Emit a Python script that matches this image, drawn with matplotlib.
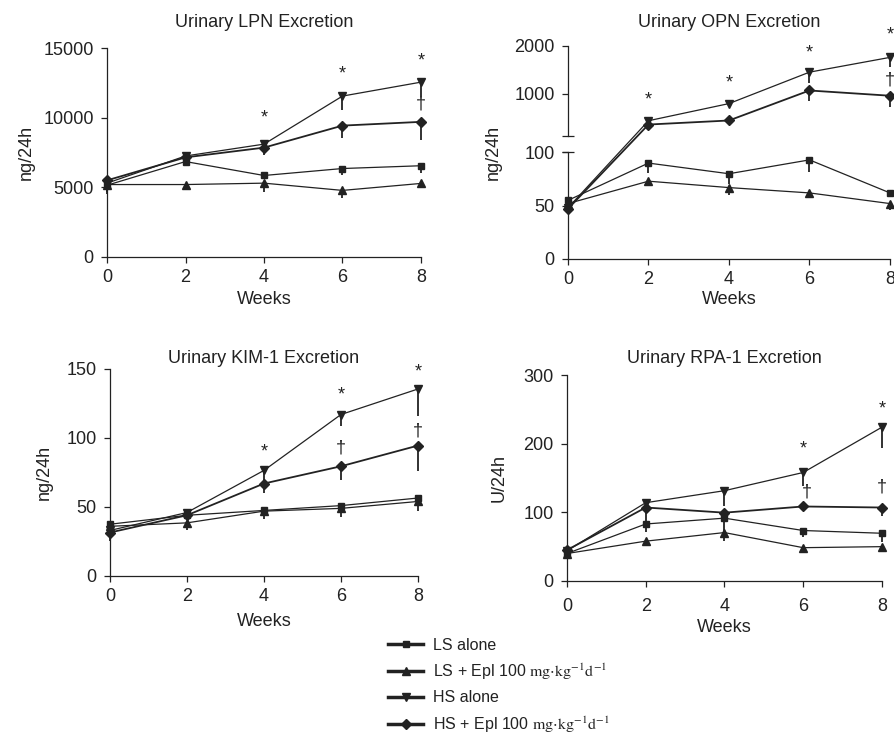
import numpy as np
import matplotlib
matplotlib.use('Agg')
import matplotlib.pyplot as plt
from matplotlib.spines import Spine

plt.rcParams['font.family'] = ['Liberation Sans', 'DejaVu Sans']
plt.rcParams['mathtext.fontset'] = 'stix'

INK = '#222222'

weeks = [0, 2, 4, 6, 8]
groups = ['LS alone', r'LS + Epl 100 $\mathrm{mg{\cdot}kg^{-1}d^{-1}}$',
          'HS alone', r'HS + Epl 100 $\mathrm{mg{\cdot}kg^{-1}d^{-1}}$']

# urinary LPN (ng/24h), order: LS, LS+Epl, HS, HS+Epl
lpn_ls = [5150, 6850, 5850, 6350, 6550]
lpn_ls_epl = [5200, 5200, 5300, 4780, 5280]
lpn_hs = [5300, 7250, 8100, 11550, 12550]
lpn_hs_epl = [5500, 7150, 7850, 9430, 9700]
lpn_ls_err = [300, 200, 150, 500, 500]
lpn_ls_epl_err = [500, 200, 650, 550, 300]
lpn_hs_err = [800, 200, 300, 1000, 1000]
lpn_hs_epl_err = [300, 200, 500, 900, 1300]
lpn_marks = [(4, 9950, '*'), (6, 13100, '*'), (8, 14050, '*'), (8, 11000, '†')]

# urinary OPN (ng/24h)
opn_ls = [55, 90, 80, 93, 62]
opn_ls_epl = [52, 73, 67, 62, 52]
opn_hs = [48, 430, 790, 1450, 1760]
opn_hs_epl = [47, 350, 435, 1065, 955]
opn_ls_err = [3, 9, 10, 11, 3]
opn_ls_epl_err = [3, 2, 7, 2, 6]
opn_hs_err = [3, 30, 40, 230, 200]
opn_hs_epl_err = [3, 30, 30, 230, 240]
opn_marks = [(2, 870, '*'), (4, 1220, '*'), (6, 1860, '*'), (8, 2230, '*'), (8, 1290, '†')]

# urinary KIM-1 (ng/24h)
kim_ls = [37.5, 44, 47.5, 51, 56.5]
kim_ls_epl = [36, 38.5, 47, 49, 54]
kim_hs = [33, 46, 76.5, 117, 135.5]
kim_hs_epl = [31.5, 44, 67, 79.5, 94.5]
kim_ls_err = [2, 2, 2, 2, 2]
kim_ls_epl_err = [2, 5, 6, 6, 7]
kim_hs_err = [2, 2, 8, 8.5, 19.5]
kim_hs_epl_err = [6, 2, 6.5, 10, 18.5]
kim_marks = [(4, 90, '*'), (6, 131, '*'), (8, 147.5, '*'), (6, 92.5, '†'), (8, 105, '†')]

# urinary RPA-1 (U/24h)
rpa_ls = [40, 83, 91.5, 73.5, 69.5]
rpa_ls_epl = [40, 58, 70.5, 48.5, 50]
rpa_hs = [44, 114, 131.5, 158, 224]
rpa_hs_epl = [45, 107, 99.5, 108.5, 107]
rpa_ls_err = [2, 11, 20, 9, 13]
rpa_ls_epl_err = [2, 5, 12, 5, 4]
rpa_hs_err = [2, 3, 23, 20, 31]
rpa_hs_epl_err = [3, 23, 3, 3, 13]
rpa_marks = [(6, 192, '*'), (8, 251, '*'), (6.1, 129, '†'), (8, 137, '†')]

# marker, size, line width per group
styles = [('s', 4.2, 0.9), ('^', 5.5, 0.9), ('v', 5.5, 0.9), ('D', 5.0, 1.3)]

# broken OPN axis: linear 0-100, gap, then compressed 100-2000
GAP = 15
K = 0.0447


def opn_fwd(y):
    y = np.asarray(y, dtype=float)
    return np.where(y <= 100, y, 100 + GAP + (y - 100) * K)


def opn_inv(f):
    f = np.asarray(f, dtype=float)
    return np.where(f <= 100, f, 100 + np.maximum(f - 100 - GAP, 0) / K)


def panel(ax, ys, errs, marks, title, ylabel, ylim, yticks, tpad, lab_x, xlab_y, xpad):
    handles = []
    for y, e, (mk, ms, lw) in zip(ys, errs, styles):
        c = ax.errorbar(weeks, y, yerr=[e, np.zeros(len(e))], fmt='-', marker=mk, ms=ms,
                        lw=lw, color=INK, ecolor=INK, elinewidth=1.3, capsize=0)
        for art in c.get_children():
            art.set_clip_on(False)
        handles.append(c[0])
    for x, y, s in marks:
        ax.text(x, y, s, ha='center', va='center', fontsize=13, color=INK, clip_on=False)
    ax.set_xlim(0, 8)
    ax.set_xticks(weeks)
    ax.set_ylim(*ylim)
    ax.set_yticks(yticks)
    for s in ['top', 'right']:
        ax.spines[s].set_visible(False)
    for s in ['left', 'bottom']:
        ax.spines[s].set_color(INK)
        ax.spines[s].set_linewidth(0.9)
    ax.tick_params(direction='out', length=4.5, width=0.9, color=INK, labelcolor=INK,
                   labelsize=13, pad=5)
    ax.tick_params(axis='x', pad=xpad)
    ax.set_title(title, fontsize=13, color=INK, pad=tpad)
    ax.set_ylabel(ylabel, fontsize=13, color=INK)
    ax.set_xlabel('Weeks', fontsize=13, color=INK)
    ax.yaxis.set_label_coords(lab_x, 0.5)
    ax.xaxis.set_label_coords(0.5, xlab_y)
    return handles


fig = plt.figure(figsize=(8.94, 7.33), dpi=100)

ax1 = fig.add_axes([0.1197, 0.6494, 0.3512, 0.2851])
handles = panel(ax1, [lpn_ls, lpn_ls_epl, lpn_hs, lpn_hs_epl],
                [lpn_ls_err, lpn_ls_epl_err, lpn_hs_err, lpn_hs_epl_err], lpn_marks,
                'Urinary LPN Excretion', 'ng/24h', (0, 15000), [0, 5000, 10000, 15000],
                14.8, -0.229, -0.163, 4)

ax2 = fig.add_axes([0.6353, 0.6467, 0.3602, 0.2906])
ax2.set_yscale('function', functions=(opn_fwd, opn_inv))
panel(ax2, [opn_ls, opn_ls_epl, opn_hs, opn_hs_epl],
      [opn_ls_err, opn_ls_epl_err, opn_hs_err, opn_hs_epl_err], opn_marks,
      'Urinary OPN Excretion', 'ng/24h', (0, 2000), [0, 50, 100, 1000, 2000],
      13.3, -0.205, -0.150, 4)
ax2.spines['left'].set_bounds(0, 100)
upper = Spine.linear_spine(ax2, 'left')
upper.set_bounds(100.001, 2000)
upper.set_color(INK)
upper.set_linewidth(0.9)
ax2.spines['left_upper'] = upper
ax2.set_yticks([100, 100.001], minor=True)
ax2.yaxis.remove_overlapping_locs = False
ax2.tick_params(axis='y', which='minor', direction='inout', length=9, width=0.9, color=INK)

ax3 = fig.add_axes([0.1230, 0.2142, 0.3445, 0.2824])
panel(ax3, [kim_ls, kim_ls_epl, kim_hs, kim_hs_epl],
      [kim_ls_err, kim_ls_epl_err, kim_hs_err, kim_hs_epl_err], kim_marks,
      'Urinary KIM-1 Excretion', 'ng/24h', (0, 150), [0, 50, 100, 150],
      4.3, -0.185, -0.179, 4)

ax4 = fig.add_axes([0.6342, 0.2074, 0.3523, 0.2810])
panel(ax4, [rpa_ls, rpa_ls_epl, rpa_hs, rpa_hs_epl],
      [rpa_ls_err, rpa_ls_epl_err, rpa_hs_err, rpa_hs_epl_err], rpa_marks,
      'Urinary RPA-1 Excretion', 'U/24h', (0, 300), [0, 100, 200, 300],
      9.0, -0.187, -0.184, 8)

leg = fig.legend(handles, groups, loc='center left', bbox_to_anchor=(0.434, 0.064),
                 frameon=False, fontsize=11.5, borderpad=0, borderaxespad=0,
                 handlelength=2.2, handletextpad=0.6, labelspacing=0.55, numpoints=1)
for line in leg.get_lines():
    line.set_linewidth(2.5)
for t in leg.get_texts():
    t.set_color(INK)

fig.savefig('out.png', dpi=100)
